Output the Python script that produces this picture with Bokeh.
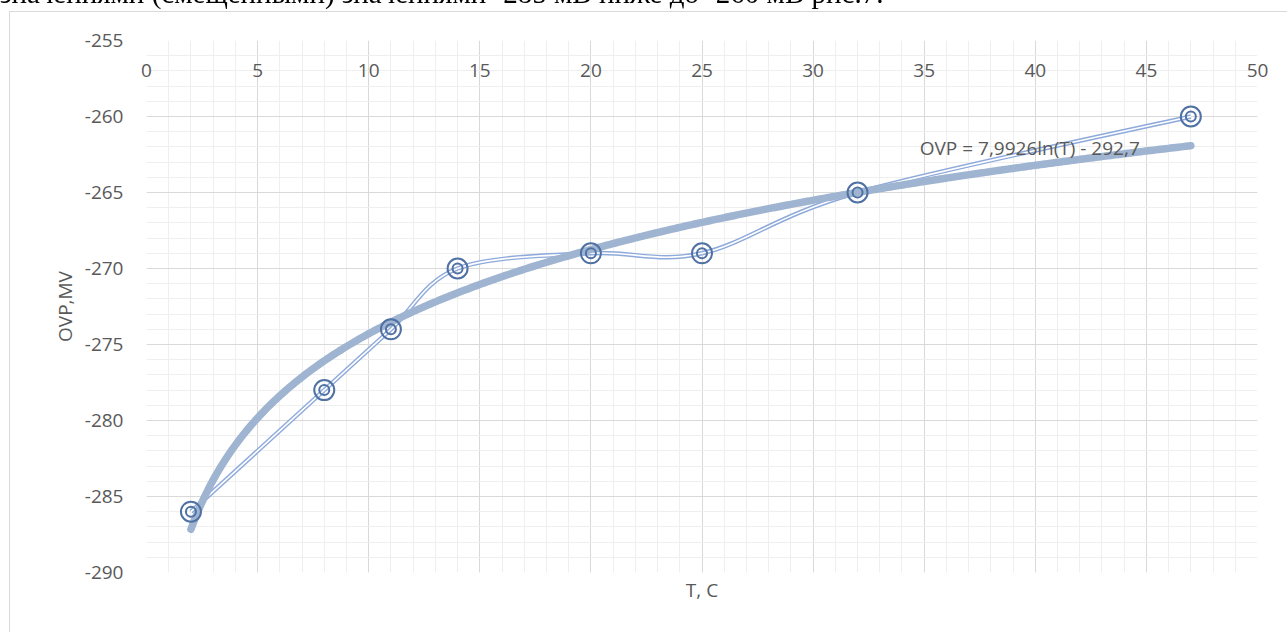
import numpy as np
from bokeh.plotting import figure
from bokeh.layouts import column
from bokeh.models import Label, SingleIntervalTicker, Title, Range1d, ColumnDataSource, PrintfTickFormatter, Div
from bokeh.embed import file_html
from bokeh.resources import INLINE

# ---- data ----
T = [2, 8, 11, 14, 20, 25, 32, 47]
OVP = [-286, -278, -274, -270, -269, -269, -265, -260]
x_limits = [0, 50]
y_limits = [-290, -255]
trend_text = "OVP = 7,9926ln(T) - 292,7"
x_title = "T, C"
y_title = "OVP,MV"
top_text = "значениями (смещенными) значениями -285 мВ ниже до -260 мВ рис.7."

FONT = "Open Sans"
TXT = "#595959"
FS = "19px"
BORDER = "linear-gradient(#d9d9d9,#d9d9d9)"

# ---- chart ----
p = figure(width=1287, height=632, x_range=Range1d(*x_limits), y_range=Range1d(*y_limits),
           x_axis_location="above", output_backend="svg", toolbar_location=None,
           min_border_left=146, min_border_right=30, min_border_top=40, min_border_bottom=60)
p.outline_line_color = None
p.background_fill_color = "white"
p.border_fill_color = None
# outer chart-area border (light gray lines at left and top of the chart box)
p.styles = {
    "background-color": "white",
    "background-image": f"{BORDER}, {BORDER}",
    "background-size": "1px 100%, 100% 1px",
    "background-position": "9px 11px, 9px 11px",
    "background-repeat": "no-repeat",
}

for ax in (p.xaxis[0], p.yaxis[0]):
    ax.ticker = SingleIntervalTicker(interval=5, num_minor_ticks=5)
    ax.formatter = PrintfTickFormatter(format="%d")
    ax.axis_line_color = None
    ax.major_tick_line_color = None
    ax.minor_tick_line_color = None
    ax.major_tick_out = 0
    ax.major_tick_in = 0
    ax.minor_tick_out = 0
    ax.minor_tick_in = 0
    ax.major_label_text_font = FONT
    ax.major_label_text_font_size = FS
    ax.major_label_text_color = TXT
    ax.axis_label_text_font = FONT
    ax.axis_label_text_font_size = FS
    ax.axis_label_text_color = TXT
    ax.axis_label_text_font_style = "normal"

p.xaxis.major_label_standoff = -36
p.yaxis.major_label_standoff = 23
p.yaxis.axis_label = y_title
p.yaxis.axis_label_standoff = 4

for g in (p.xgrid[0], p.ygrid[0]):
    g.grid_line_color = "#d9d9d9"
    g.minor_grid_line_color = "#efefef"

p.add_layout(Title(text=x_title, align="center", text_font=FONT, text_font_size=FS,
                   text_color=TXT, text_font_style="normal", standoff=4), "below")

# smoothed (Catmull-Rom) series line via bezier segments
pts = np.column_stack([T, OVP]).astype(float)
n = len(pts)
seg = dict(x0=[], y0=[], x1=[], y1=[], cx0=[], cy0=[], cx1=[], cy1=[])
for i in range(n - 1):
    P0 = pts[i - 1] if i > 0 else pts[i]
    P1 = pts[i]
    P2 = pts[i + 1]
    P3 = pts[i + 2] if i + 2 < n else pts[i + 1]
    c1 = P1 + (P2 - P0) / 6.0
    c2 = P2 - (P3 - P1) / 6.0
    seg["x0"].append(P1[0]); seg["y0"].append(P1[1])
    seg["x1"].append(P2[0]); seg["y1"].append(P2[1])
    seg["cx0"].append(c1[0]); seg["cy0"].append(c1[1])
    seg["cx1"].append(c2[0]); seg["cy1"].append(c2[1])
src = ColumnDataSource(seg)
p.bezier(x0="x0", y0="y0", x1="x1", y1="y1", cx0="cx0", cy0="cy0", cx1="cx1", cy1="cy1",
         source=src, line_color="#8eaadb", line_width=4.5)
p.bezier(x0="x0", y0="y0", x1="x1", y1="y1", cx0="cx0", cy0="cy0", cx1="cx1", cy1="cy1",
         source=src, line_color="white", line_width=1.6)

# logarithmic trendline fitted to the data
slope, intercept = np.polyfit(np.log(T), OVP, 1)
tt = np.linspace(min(T), max(T), 400)
p.line(tt, slope * np.log(tt) + intercept, line_color="#9fb4d0", line_width=7.5, line_cap="round")

# markers
p.scatter(T, OVP, size=20, fill_color=None, line_color="#4f71a3", line_width=2)
p.scatter(T, OVP, size=10, fill_color=None, line_color="#4f71a3", line_width=2)

p.add_layout(Label(x=34.8, y=-262.05, text=trend_text, text_font=FONT, text_font_size=FS,
                   text_color=TXT, text_baseline="middle"))

# the document text line cut off at the very top of the screenshot (overlaid, out of flow)
top = Div(
    text=('<span style="position:fixed;left:0px;top:-21px;white-space:nowrap;'
          'font-family:\'Liberation Serif\';font-size:29px;line-height:29px;color:black;z-index:5;">'
          + top_text + '</span>'),
    width=10, height=10,
    styles={"position": "fixed", "top": "0px", "left": "0px", "z-index": "5"},
)

layout = column(p, top, spacing=0)
open("out.html", "w").write(file_html(layout, INLINE))
